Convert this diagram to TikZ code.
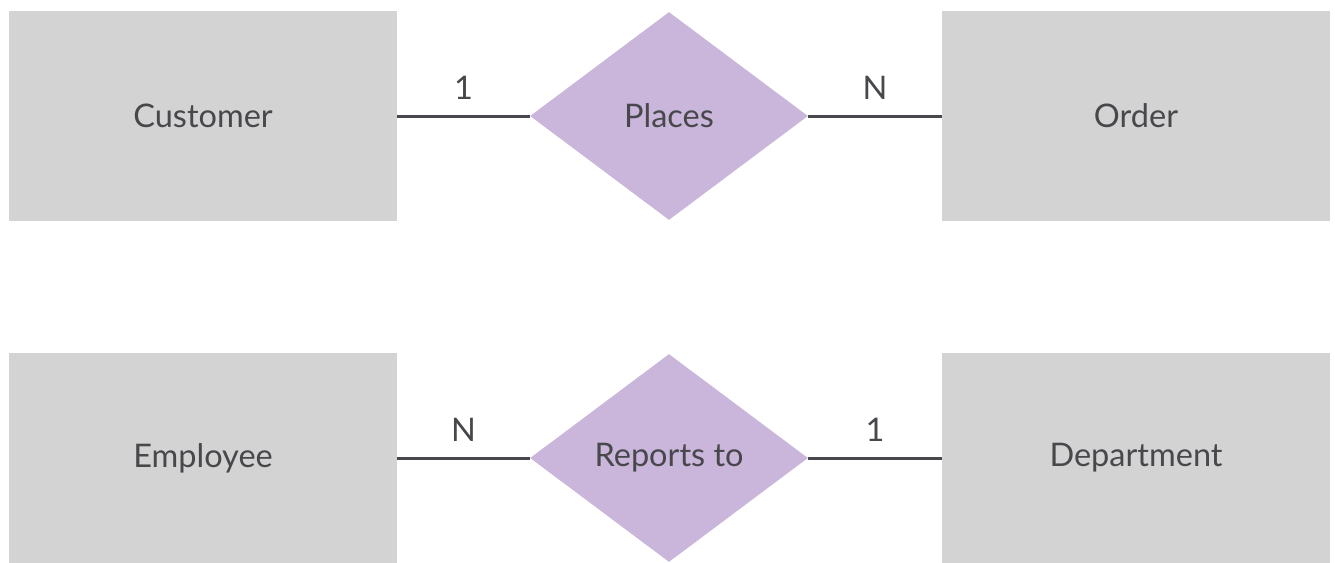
\documentclass[tikz,border=0pt]{standalone}
\usepackage{fontspec}
\setmainfont{Lato}
\usepackage{xcolor}
\usetikzlibrary{shapes.geometric}
\definecolor{boxgray}{HTML}{D3D3D3}
\definecolor{lilac}{HTML}{C9B6DA}
\definecolor{inkgray}{HTML}{47474C}
\begin{document}
\begin{tikzpicture}[x=0.02cm,y=-0.02cm,
    entity/.style={fill=boxgray,minimum width=7.76cm,minimum height=4.2cm,inner sep=0pt,text=inkgray},
    relation/.style={diamond,fill=lilac,minimum width=5.56cm,minimum height=4.16cm,inner sep=0pt,text=inkgray},
    link/.style={draw=inkgray,line width=1.7pt},
    card/.style={above=6.5pt,text=inkgray,inner sep=2pt},
    font=\fontsize{18.5}{22}\selectfont]
  \useasboundingbox[fill=white] (0,0) rectangle (1335,562);
  \begin{scope}
  \clip (0,0) rectangle (1335,562);
  % top row
  \node[entity] (customer) at (203,116) {Customer};
  \node[relation] (places) at (669,116) {Places};
  \node[entity] (order) at (1136,116) {Order};
  \draw[link] (customer.east) -- node[card] {1} (places.west);
  \draw[link] (places.east) -- node[card] {N} (order.west);
  % bottom row
  \node[entity] (employee) at (203,458) {Employee};
  \node[relation] (reports) at (669,458) {Reports to};
  \node[entity] (department) at (1136,458) {Department};
  \draw[link] (employee.east) -- node[card] {N} (reports.west);
  \draw[link] (reports.east) -- node[card] {1} (department.west);
  \end{scope}
\end{tikzpicture}
\end{document}
